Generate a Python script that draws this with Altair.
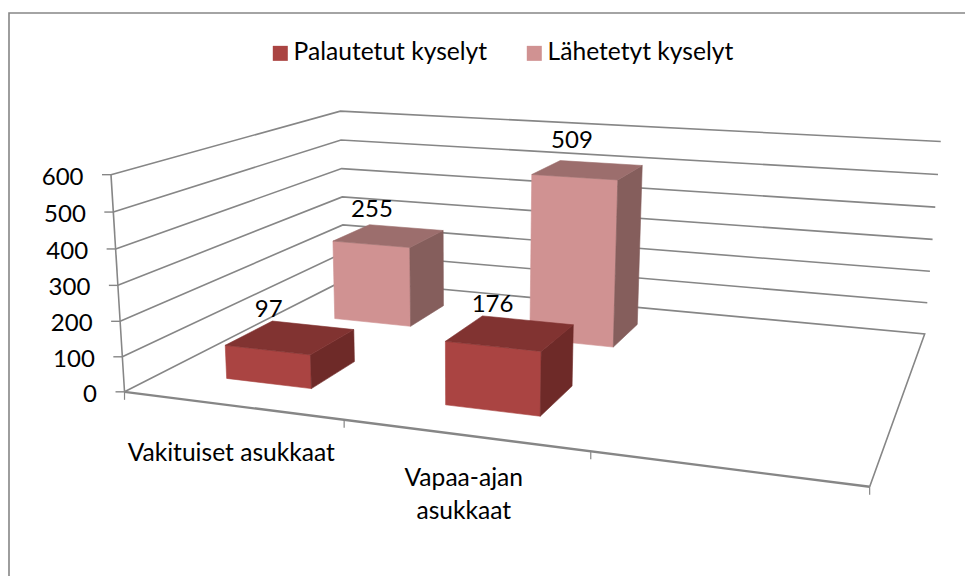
import numpy as np
import altair as alt

# ---- data
categories = ["Vakituiset asukkaat", "Vapaa-ajan asukkaat", ""]
category_lines = [["Vakituiset asukkaat"], ["Vapaa-ajan", "asukkaat"], []]
series = ["Palautetut kyselyt", "Lähetetyt kyselyt"]
palautetut = [97, 176]
lahetetyt = [255, 509]
value_ticks = [0, 100, 200, 300, 400, 500, 600]

# ---- styles
FRONT = ["#AA4442", "#D09292"]
SIDE = ["#6E2A28", "#855E5C"]
TOP = ["#813331", "#9C6E6D"]
GRID = "#868686"
FONT = "Lato"
FS = 24.6
FS_NUM = 24

# ---- camera: fit the 3-D box (category, depth, value) onto the page
box = [((0, 0, 0), (125.7, 391)), ((0, 0, 600), (109.5, 175)), ((0, 1, 0), (342.5, 281)),
       ((0, 1, 600), (342, 110.7)), ((3, 1, 0), (925.2, 333.3)), ((3, 1, 600), (940.2, 141.7)),
       ((3, 0, 0), (869.7, 487.3)), ((1, 0, 0), (344.7, 419.5)), ((2, 0, 0), (590.4, 451.7))]
rows = []
for (u, v, w), (x, y) in box:
    w = w / 600
    rows.append([u, v, w, 1, 0, 0, 0, 0, -x * u, -x * v, -x * w, -x])
    rows.append([0, 0, 0, 0, u, v, w, 1, -y * u, -y * v, -y * w, -y])
P = np.linalg.svd(np.array(rows, float))[2][-1].reshape(3, 4)


def pr(u, v, w, dx=0.0, dy=0.0):
    q = P @ np.array([u, v, w / 600, 1.0])
    return [float(q[0] / q[2] + dx), float(q[1] / q[2] + dy)]


def feature(kind, coords, **props):
    return {"type": "Feature", "geometry": {"type": kind, "coordinates": coords}, "properties": props}


proj = dict(type="identity", scale=1, translate=[-8, -8])

# ---- frame, walls, floor
lines = []
lines.append(feature("LineString", [[9, 590], [9, 13], [980, 13]], w=1.6))
for t in value_ticks:
    if t == 0:
        lines.append(feature("LineString", [pr(0, 0, 0), pr(0, 1, 0), pr(3, 1, 0), pr(3, 0, 0)], w=1.6))
    else:
        lines.append(feature("LineString", [pr(0, 0, t), pr(0, 1, t), pr(3, 1, t)], w=1.6))
    lines.append(feature("LineString", [pr(0, 0, t, dx=-9), pr(0, 0, t)], w=1.4))
lines.append(feature("LineString", [pr(0, 0, 0), pr(0, 0, 600)], w=1.6))
lines.append(feature("LineString", [pr(0, 0, 0), pr(3, 0, 0)], w=2.4))
for c in range(len(categories) + 1):
    lines.append(feature("LineString", [pr(c, 0, 0), pr(c, 0, 0, dy=8)], w=1.2))

# ---- bars, back row first
values = [palautetut, lahetetyt]
faces = []
for s in (1, 0):
    for c, val in enumerate(values[s]):
        u0, u1 = c + 0.3, c + 0.7
        v0, v1 = s * 0.5 + 0.15, s * 0.5 + 0.35
        faces.append(feature("Polygon", [[pr(u0, v0, 0), pr(u1, v0, 0), pr(u1, v0, val), pr(u0, v0, val), pr(u0, v0, 0)]], fill=FRONT[s]))
        faces.append(feature("Polygon", [[pr(u1, v0, 0), pr(u1, v1, 0), pr(u1, v1, val), pr(u1, v0, val), pr(u1, v0, 0)]], fill=SIDE[s]))
        faces.append(feature("Polygon", [[pr(u0, v0, val), pr(u1, v0, val), pr(u1, v1, val), pr(u0, v1, val), pr(u0, v0, val)]], fill=TOP[s]))

# ---- text
label_shift = [[(-22, -27), (-18, -28)], [(-17, -26), (-16, -29)]]
value_texts, tick_texts, cat_texts = [], [], []
for s in (0, 1):
    for c, val in enumerate(values[s]):
        dx, dy = label_shift[s][c]
        lon, lat = pr(c + 0.5, s * 0.5 + 0.25, val, dx, dy)
        value_texts.append({"lon": lon, "lat": lat, "t": str(val)})
for t in value_ticks:
    lon, lat = pr(0, 0, t, dx=-27.5, dy=3)
    tick_texts.append({"lon": lon, "lat": lat, "t": str(t)})
cat_y = [454, 479, 0]
for c, ls in enumerate(category_lines):
    for i, line in enumerate(ls):
        lon = pr(c + 0.5, 0, 0)[0]
        cat_texts.append({"lon": lon, "lat": cat_y[c] + 32.5 * i, "t": line})

line_layer = alt.Chart(alt.Data(values=lines)).mark_geoshape(filled=False, stroke=GRID).encode(
    strokeWidth=alt.StrokeWidth("properties.w:Q", scale=None)
).project(**proj)

face_layer = alt.Chart(alt.Data(values=faces)).mark_geoshape(strokeWidth=0.6).encode(
    fill=alt.Fill("properties.fill:N", scale=None),
    stroke=alt.Stroke("properties.fill:N", scale=None),
).project(**proj)


def text_layer(rows_, align, size):
    return alt.Chart(alt.Data(values=rows_)).mark_text(
        font=FONT, fontSize=size, color="black", align=align, baseline="middle"
    ).encode(longitude="lon:Q", latitude="lat:Q", text="t:N").project(**proj)


# legend keys sit under the bar faces, so only the legend shows them
lon, lat = pr(1.5, 0.25, 50)
legend_layer = alt.Chart(alt.Data(values=[{"s": n, "lon": lon, "lat": lat} for n in series])).mark_square(
    size=4, opacity=1
).encode(
    longitude="lon:Q", latitude="lat:Q",
    color=alt.Color("s:N", sort=series,
                    scale=alt.Scale(domain=series, range=FRONT),
                    legend=alt.Legend(orient="none", legendX=260, legendY=33, direction="horizontal",
                                      title=None, symbolType="square", symbolSize=225, symbolStrokeWidth=0,
                                      labelFont=FONT, labelFontSize=FS, labelColor="black", labelLimit=400,
                                      columnPadding=34, labelOffset=1, symbolOpacity=1)),
).project(**proj)

chart = alt.layer(
    line_layer, legend_layer, face_layer,
    text_layer(value_texts, "center", FS_NUM),
    text_layer(cat_texts, "center", FS),
    text_layer(tick_texts, "right", FS_NUM),
).properties(width=957, height=568, padding=0, autosize="none").configure_view(stroke=None)

chart.save("out.html", embed_options={"renderer": "svg", "actions": False})
